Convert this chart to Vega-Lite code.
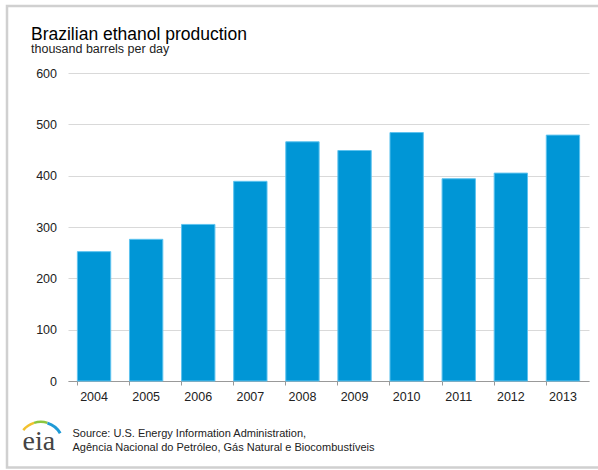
{
  "$schema": "https://vega.github.io/schema/vega-lite/v6.json",
  "width": 521,
  "height": 308,
  "autosize": {"type": "none"},
  "padding": {"left": 68, "top": 73, "right": 9, "bottom": 89},
  "background": "white",
  "config": {"view": {"stroke": null}, "font": "Liberation Sans"},
  "title": {
    "text": "Brazilian ethanol production",
    "subtitle": "thousand barrels per day",
    "anchor": "start",
    "frame": "group",
    "dx": -37,
    "dy": 70,
    "offset": 19,
    "font": "Liberation Sans",
    "fontSize": 17.5,
    "fontWeight": "normal",
    "color": "#000000",
    "subtitleFont": "Liberation Sans",
    "subtitleFontSize": 12.5,
    "subtitleColor": "#222222",
    "subtitlePadding": 0
  },
  "layer": [
    {
      "data": {"values": [{}]},
      "mark": {"type": "rect", "fill": null, "stroke": "#d0d0d0", "strokeWidth": 2.5, "clip": false},
      "encoding": {
        "x": {"value": -61},
        "x2": {"value": 560},
        "y": {"value": -67},
        "y2": {"value": 394.5}
      }
    },
    {
      "data": {
        "values": [
          {"year": "2004", "production": 252},
          {"year": "2005", "production": 276},
          {"year": "2006", "production": 305},
          {"year": "2007", "production": 389},
          {"year": "2008", "production": 466},
          {"year": "2009", "production": 449},
          {"year": "2010", "production": 484},
          {"year": "2011", "production": 394},
          {"year": "2012", "production": 405},
          {"year": "2013", "production": 479}
        ]
      },
      "mark": {"type": "bar", "color": "#0096d6", "stroke": "#5ec3ef", "strokeWidth": 1},
      "encoding": {
        "x": {
          "field": "year",
          "type": "ordinal",
          "scale": {"paddingInner": 0.36, "paddingOuter": 0.18},
          "axis": {
            "title": ["Source: U.S. Energy Information Administration,", "Agência Nacional do Petróleo, Gás Natural e Biocombustíveis"],
            "titleX": 4,
            "titleY": 55,
            "titleAnchor": "start",
            "titleAlign": "left",
            "titleBaseline": "alphabetic",
            "titleFont": "Liberation Sans",
            "titleFontSize": 11,
            "titleFontWeight": "normal",
            "titleColor": "#222222",
            "titleLineHeight": 14.3,
            "labelAngle": 0,
            "labelFont": "Liberation Sans",
            "labelFontSize": 12.5,
            "labelColor": "#222222",
            "labelPadding": 5,
            "bandPosition": 0,
            "tickSize": 4,
            "tickColor": "#999999",
            "domainColor": "#999999",
            "grid": false
          }
        },
        "y": {
          "field": "production",
          "type": "quantitative",
          "scale": {"domain": [0, 600], "nice": false},
          "axis": {
            "title": null,
            "values": [0, 100, 200, 300, 400, 500, 600],
            "labelFont": "Liberation Sans",
            "labelFontSize": 12.5,
            "labelColor": "#222222",
            "labelPadding": 11.5,
            "ticks": false,
            "domain": false,
            "gridColor": "#d9d9d9",
            "gridWidth": 1
          }
        }
      }
    },
    {
      "data": {"values": [{"logo": "eia"}]},
      "mark": {"type": "text", "font": "Liberation Serif", "fontSize": 28, "color": "#444444", "align": "left", "baseline": "alphabetic", "clip": false},
      "encoding": {
        "text": {"field": "logo"},
        "x": {"value": -45.5},
        "y": {"value": 377}
      }
    },
    {
      "data": {"values": [{}]},
      "mark": {"type": "arc", "fill": "#f2c12e", "radius": 24, "radius2": 21.5, "theta": -0.88, "theta2": -0.3, "clip": false},
      "encoding": {"x": {"value": -27.2}, "y": {"value": 371.6}}
    },
    {
      "data": {"values": [{}]},
      "mark": {"type": "arc", "fill": "#8cc63f", "radius": 24, "radius2": 21.5, "theta": -0.3, "theta2": 0.3, "clip": false},
      "encoding": {"x": {"value": -27.2}, "y": {"value": 371.6}}
    },
    {
      "data": {"values": [{}]},
      "mark": {"type": "arc", "fill": "#1f9ad6", "radius": 24, "radius2": 21, "theta": 0.3, "theta2": 1.04, "clip": false},
      "encoding": {"x": {"value": -27.2}, "y": {"value": 371.6}}
    }
  ]
}
